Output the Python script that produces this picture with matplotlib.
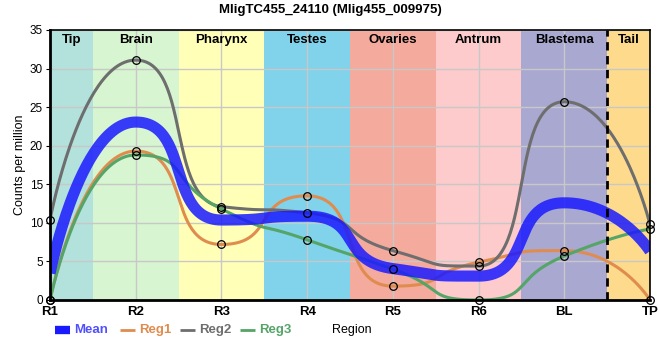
#!/usr/bin/env python3
# -*- coding: utf-8 -*-

import numpy as np
import matplotlib
matplotlib.use( "Agg" )
import matplotlib.pyplot as plt
from matplotlib.lines import Line2D

plt.rcParams["font.family"] = [ "Liberation Sans", "DejaVu Sans" ]

# データ
regions = [ "R1", "R2", "R3", "R4", "R5", "R6", "BL", "TP" ]
reg1 = [ 0.0, 19.3, 7.2, 13.5, 1.8, 4.9, 6.4, 0.0 ]
reg2 = [ 10.4, 31.1, 12.1, 11.3, 6.4, 4.4, 25.7, 9.8 ]
reg3 = [ 0.0, 18.8, 11.8, 7.8, 4.0, 0.0, 5.7, 9.2 ]

bands = [ "Tip", "Brain", "Pharynx", "Testes", "Ovaries", "Antrum", "Blastema", "Tail" ]
band_colors = [ "#b3e2dd", "#d7f5d0", "#ffffb8", "#80d3ea", "#f4aa9d", "#fdcbcb", "#a9a8d0", "#fedb8c" ]

def spline( xs, ys, n=60, smoothing=0.55 ):
    # 極値で水平になるベジェスプライン (端の制御点は点そのもの)
    xs = list( map( float, xs ) ); ys = list( map( float, ys ) )
    m = len( xs )
    denom = smoothing + 1
    lc = [ ( xs[i], ys[i] ) for i in range( m ) ]
    rc = [ ( xs[i], ys[i] ) for i in range( m ) ]
    for i in range( 1, m - 1 ):
        px, py = xs[i], ys[i]
        lx, ly = xs[i-1], ys[i-1]
        nx, ny = xs[i+1], ys[i+1]
        lcx = ( smoothing * px + lx ) / denom
        lcy = ( smoothing * py + ly ) / denom
        rcx = ( smoothing * px + nx ) / denom
        rcy = ( smoothing * py + ny ) / denom
        corr = ( rcy - lcy ) * ( rcx - px ) / ( rcx - lcx ) + py - rcy
        lcy += corr; rcy += corr
        if lcy > ly and lcy > py:
            lcy = max( ly, py ); rcy = 2 * py - lcy
        elif lcy < ly and lcy < py:
            lcy = min( ly, py ); rcy = 2 * py - lcy
        if rcy > ny and rcy > py:
            rcy = max( ny, py ); lcy = 2 * py - rcy
        elif rcy < ny and rcy < py:
            rcy = min( ny, py ); lcy = 2 * py - rcy
        lc[i] = ( lcx, lcy ); rc[i] = ( rcx, rcy )
    t = np.linspace( 0, 1, n )[:, None]
    pts = []
    for i in range( m - 1 ):
        p0 = np.array( [ xs[i], ys[i] ] ); p1 = np.array( rc[i] )
        p2 = np.array( lc[i+1] ); p3 = np.array( [ xs[i+1], ys[i+1] ] )
        pts.append( (1-t)**3 * p0 + 3*(1-t)**2*t * p1 + 3*(1-t)*t**2 * p2 + t**3 * p3 )
    pts = np.vstack( pts )
    return pts[:, 0], pts[:, 1]

def main():
    x = np.arange( len( regions ) )
    mean = ( np.array( reg1 ) + np.array( reg2 ) + np.array( reg3 ) ) / 3

    fig = plt.figure( figsize=( 6.6, 3.6 ), dpi=100 )
    ax = fig.add_axes( [ 50/660, 60/360, 600/660, 270/360 ] )

    # 背景の帯
    edges = [ 0, 0.5, 1.5, 2.5, 3.5, 4.5, 5.5, 6.5, 7 ]
    for i, name in enumerate( bands ):
        ax.axvspan( edges[i], edges[i+1], color=band_colors[i], lw=0, zorder=0 )
        ax.text( ( edges[i] + edges[i+1] ) / 2, 34.5, name, ha="center", va="top",
                 fontsize=9.5, fontweight="bold", zorder=5 )
    ax.axvline( 6.5, color="black", lw=2, ls=( 0, ( 3, 2 ) ), zorder=4 )

    ax.grid( True, color="#c8c8c8", lw=1, zorder=1 )
    ax.set_axisbelow( False )

    series = [
        ( "Reg1", reg1, "#e08c4f" ),
        ( "Reg2", reg2, "#6e6e6e" ),
        ( "Reg3", reg3, "#55a468" ),
    ]
    for name, ys, c in series:
        sx, sy = spline( x, ys )
        ax.plot( sx, sy, color=c, lw=2.2, zorder=3, solid_capstyle="butt" )
    mx, my = spline( x, mean )
    ax.plot( mx, my, color="#1a1aff", lw=8, alpha=0.85, zorder=3.5, solid_capstyle="butt" )
    for name, ys, c in series:
        ax.plot( x, ys, ls="none", marker="o", ms=5.5, mfc="none", mec="black", mew=0.9,
                 zorder=6, clip_on=False )

    ax.set_xlim( 0, 7 )
    ax.set_ylim( 0, 35 )
    ax.set_xticks( x )
    ax.set_xticklabels( regions, fontsize=9.5, fontweight="bold" )
    ax.set_yticks( np.arange( 0, 36, 5 ) )
    ax.tick_params( axis="y", labelsize=8.5, length=3, pad=2 )
    ax.tick_params( axis="x", length=0, pad=4 )
    for sp in ax.spines.values():
        sp.set_linewidth( 1.2 )
        sp.set_zorder( 7 )
    ax.spines["left"].set_linewidth( 2 )
    ax.spines["bottom"].set_linewidth( 2 )
    ax.set_ylabel( "Counts per million", fontsize=9, labelpad=3 )

    fig.text( 0.5, 0.972, "MligTC455_24110 (Mlig455_009975)", ha="center", va="center",
              fontsize=9.5, fontweight="bold" )

    # 凡例 (手動配置)
    legend_items = [
        ( "Mean", "#1a1aff", "#5050ff", 6, 55 ),
        ( "Reg1", "#e08c4f", "#e08c4f", 2, 120 ),
        ( "Reg2", "#6e6e6e", "#6e6e6e", 2, 180 ),
        ( "Reg3", "#55a468", "#55a468", 2, 240 ),
    ]
    ly = 1 - 330/360
    for label, lc, tc, lw, x0 in legend_items:
        fig.add_artist( Line2D( [ x0/660, ( x0 + 15 )/660 ], [ ly, ly ], color=lc, lw=lw,
                                solid_capstyle="butt" ) )
        fig.text( ( x0 + 19 )/660, ly, label, ha="left", va="center", fontsize=9.5,
                  fontweight="bold", color=tc )
    fig.text( 332/660, ly, "Region", ha="left", va="center", fontsize=9 )

    fig.savefig( "out.png", dpi=100 )

if __name__ == "__main__":
    main()
